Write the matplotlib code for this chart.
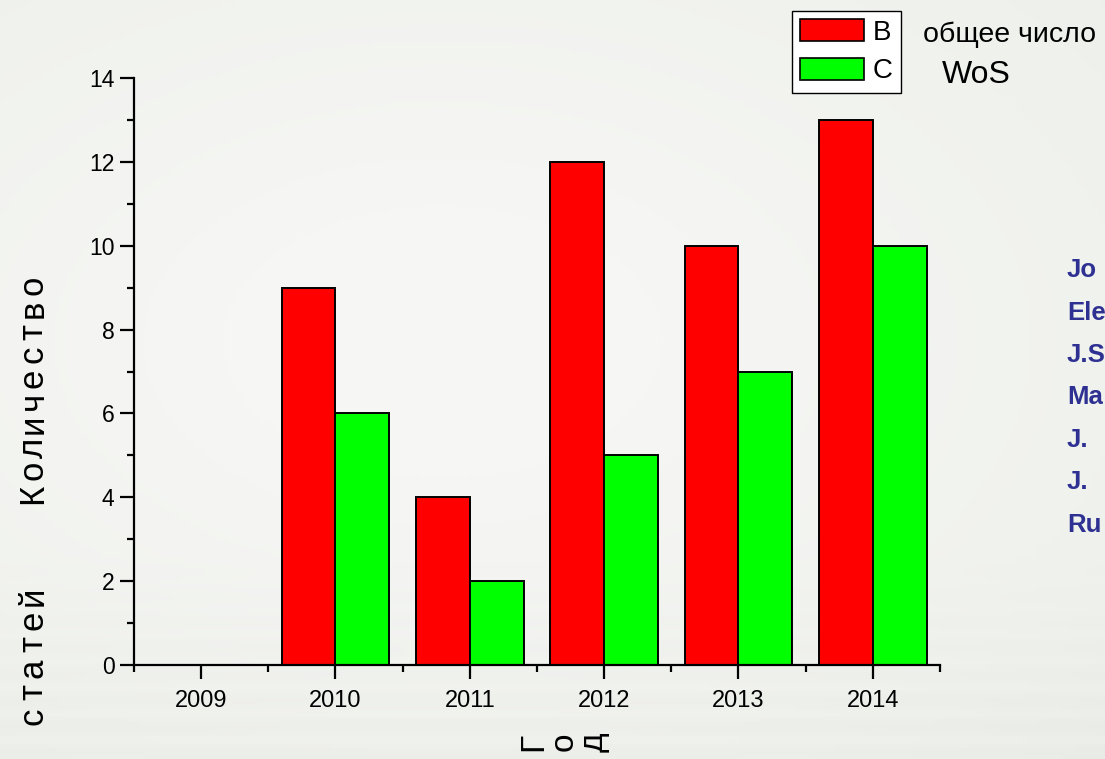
import numpy as np
import matplotlib
matplotlib.use("Agg")
import matplotlib.pyplot as plt
from matplotlib.patches import Patch
from matplotlib.ticker import MultipleLocator

# Publication counts per year
years = [2009, 2010, 2011, 2012, 2013, 2014]
series_b = [0, 9, 4, 12, 10, 13]   # общее число
series_c = [0, 6, 2, 5, 7, 10]     # WoS
series_names = ["B", "C"]
year_labels = [str(y) for y in years]
journals = ["Jo", "Ele", "J.S", "Ma", "J.", "J.", "Ru"]

plt.rcParams["font.family"] = ["Liberation Sans", "DejaVu Sans"]

W, H = 1105, 759
fig = plt.figure(figsize=(W / 100, H / 100), dpi=100)

# soft light background
bg = fig.add_axes([0, 0, 1, 1], zorder=-10)
yy, xx = np.mgrid[0:1:200j, 0:1:300j]
base = np.array([0.930, 0.940, 0.918])
glow = np.array([0.968, 0.970, 0.962])
t = np.clip(1.2 - 1.6 * np.hypot((xx - 0.40) * 0.9, (yy - 0.45)), 0, 1)[..., None]
img = base * (1 - t) + glow * t
# faint streaks toward the bottom
streak = (0.014 * np.sin(yy * 90) * np.clip((yy - 0.72) * 4, 0, 1))[..., None]
img = np.clip(img - np.abs(streak), 0, 1)
bg.imshow(img, extent=[0, 1, 0, 1], aspect="auto", origin="upper")
bg.set_axis_off()

# main plotting area
left, right, top, bottom = 134, 940, 78, 665
ax = fig.add_axes([left / W, 1 - bottom / H, (right - left) / W, (bottom - top) / H])
ax.set_facecolor("none")

x = np.array(years, dtype=float)
bw = 0.4
ax.bar(x - bw / 2, series_b, width=bw, color="#ff0000", edgecolor="black",
       linewidth=1.4, label=series_names[0], zorder=3)
ax.bar(x + bw / 2, series_c, width=bw, color="#00ff00", edgecolor="black",
       linewidth=1.4, label=series_names[1], zorder=3)

ax.set_xlim(2008.5, 2014.5)
ax.set_ylim(0, 14)
ax.set_xticks(years)
ax.set_xticklabels(year_labels)
ax.xaxis.set_minor_locator(MultipleLocator(0.5))
ax.yaxis.set_major_locator(MultipleLocator(2))
ax.yaxis.set_minor_locator(MultipleLocator(1))
for side in ("top", "right"):
    ax.spines[side].set_visible(False)
for side in ("left", "bottom"):
    ax.spines[side].set_linewidth(1.6)
    ax.spines[side].set_zorder(4)
ax.tick_params(axis="both", which="major", direction="out", length=10, width=1.6,
               colors="black", labelsize=17)
ax.tick_params(axis="both", which="minor", direction="out", length=5, width=1.6)
ax.tick_params(axis="x", which="major", pad=8)
ax.tick_params(axis="y", which="major", labelsize=16.5, pad=4)

# legend box
handles = [Patch(facecolor="#ff0000", edgecolor="black", linewidth=1.2),
           Patch(facecolor="#00ff00", edgecolor="black", linewidth=1.2)]
leg = fig.legend(handles, series_names, loc="upper left",
                 bbox_to_anchor=(792 / W, 1 - 11 / H), fontsize=20,
                 frameon=True, fancybox=False, framealpha=1, edgecolor="black",
                 handlelength=2.3, handleheight=0.83, labelspacing=0.43,
                 borderpad=0.3, handletextpad=0.3, borderaxespad=0)
leg.get_frame().set_linewidth(1.0)

fig.text(923 / W, 1 - 35 / H, "общее число", fontsize=20.5, va="center", ha="left")
fig.text(942 / W, 1 - 75 / H, "WoS", fontsize=23, va="center", ha="left")

# y-axis caption, one rotated glyph after another
def stacked(word, x0, y_start, step, size):
    for i, ch in enumerate(word):
        fig.text(x0 / W, 1 - (y_start - i * step) / H, ch, rotation=90,
                 fontsize=size, ha="center", va="center")

stacked("Количество", 33, 494, 23.2, 25)
stacked("статей", 33, 716, 24, 25)

# x-axis caption
for i, ch in enumerate("Год"):
    fig.text((534 + i * 30) / W, 1 - 742 / H, ch, rotation=90, fontsize=24,
             ha="center", va="center")

# journal list at the right edge
for i, name in enumerate(journals):
    fig.text(1067 / W, 1 - (270 + i * 42.5) / H, name, fontsize=18.5,
             fontweight="bold", color="#2e3192", ha="left", va="center")

fig.savefig("out.png", dpi=100)
